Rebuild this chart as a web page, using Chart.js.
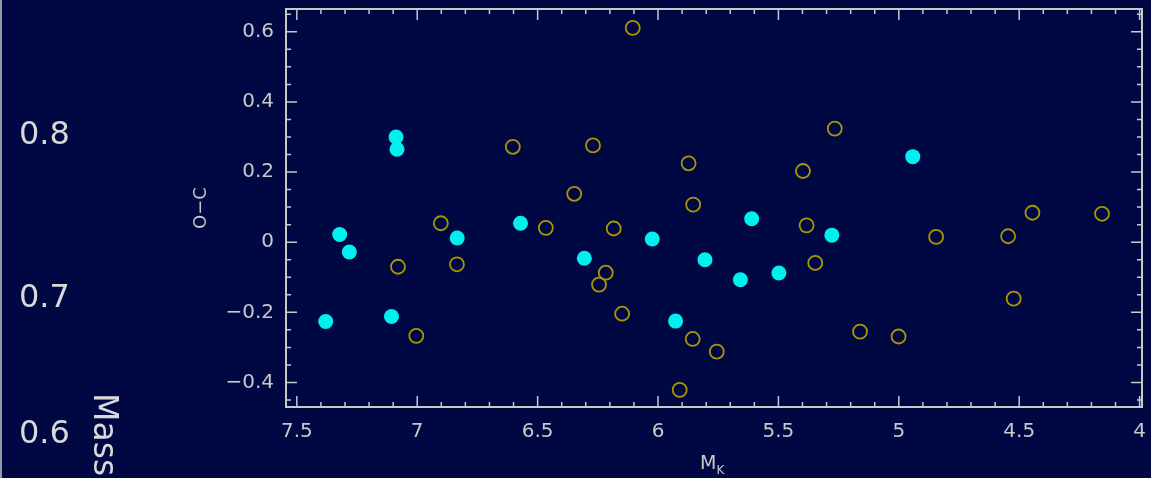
<!DOCTYPE html>
<html>
<head>
<meta charset="utf-8">
<script src="https://cdn.jsdelivr.net/npm/chart.js@4.4.1/dist/chart.umd.min.js"></script>
<style>
  body { margin: 0; background: #000843; }
  canvas { display: block; }
</style>
</head>
<body>
<canvas id="mychart" width="1151" height="478"></canvas>
<script>
// filled (cyan) stars: absolute K magnitude and O-C residual
const filledMk = [7.38, 7.322, 7.282, 7.088, 7.084, 7.107, 6.834, 6.571, 6.306, 6.024, 5.927, 5.805, 5.611, 5.658, 5.498, 5.278, 4.942];
const filledOC = [-0.226, 0.022, -0.028, 0.300, 0.265, -0.212, 0.012, 0.054, -0.046, 0.009, -0.225, -0.050, 0.067, -0.107, -0.088, 0.020, 0.244];

// open (olive) stars
const openMk = [6.105, 7.080, 7.004, 6.902, 6.835, 6.603, 6.466, 6.348, 6.270, 6.184, 6.217, 6.245, 6.149, 5.873, 5.854, 5.856, 5.910,
  5.756, 5.266, 5.398, 5.383, 5.347, 5.161, 5.001, 4.845, 4.546, 4.445, 4.523, 4.156];
const openOC = [0.611, -0.070, -0.267, 0.054, -0.063, 0.272, 0.041, 0.138, 0.276, 0.039, -0.087, -0.121, -0.204, 0.225, 0.107, -0.276, -0.421,
  -0.312, 0.324, 0.203, 0.048, -0.059, -0.255, -0.269, 0.015, 0.017, 0.084, -0.161, 0.081];

const xTicks = [7.5, 7, 6.5, 6, 5.5, 5, 4.5, 4];
const yTicks = [0.6, 0.4, 0.2, 0, -0.2, -0.4];
const massLabels = ["0.8", "0.7", "0.6"];

const axisColor = "#c8c8c8";
const fontFamily = "'DejaVu Sans', sans-serif";

function toPoints(xs, ys) {
  return xs.map((x, i) => ({ x: x, y: ys[i] }));
}

function fmt(v) {
  let s = String(Math.round(v * 10) / 10);
  return s.replace("-", "\u2212");
}

function noPadding(scale) {
  scale.paddingTop = 0;
  scale.paddingBottom = 0;
  scale.paddingLeft = 0;
  scale.paddingRight = 0;
}

// frame with inward major/minor ticks on all four sides, plus outside texts
const framePlugin = {
  id: "frame",
  afterDraw(chart) {
    const ctx = chart.ctx;
    const area = chart.chartArea;
    const xs = chart.scales.x;
    const ys = chart.scales.y;

    ctx.save();
    ctx.strokeStyle = axisColor;
    ctx.lineWidth = 2;
    ctx.strokeRect(area.left, area.top, area.right - area.left, area.bottom - area.top);

    ctx.lineWidth = 1.5;
    for (let i = 40; i <= 75; i++) {
      let v = i / 10;
      let px = xs.getPixelForValue(v);
      if (px < area.left + 2 || px > area.right - 1) continue;
      let len = (i % 5 === 0) ? 11 : 5;
      ctx.beginPath();
      ctx.moveTo(px, area.bottom);
      ctx.lineTo(px, area.bottom - len);
      ctx.moveTo(px, area.top);
      ctx.lineTo(px, area.top + len);
      ctx.stroke();
    }
    for (let i = -9; i <= 13; i++) {
      let v = i * 0.05;
      let py = ys.getPixelForValue(v);
      if (py < area.top + 2 || py > area.bottom - 2) continue;
      let len = (i % 4 === 0) ? 11 : 5;
      ctx.beginPath();
      ctx.moveTo(area.left, py);
      ctx.lineTo(area.left + len, py);
      ctx.moveTo(area.right, py);
      ctx.lineTo(area.right - len, py);
      ctx.stroke();
    }

    // thin edge line of the neighbouring panel
    ctx.lineWidth = 1.5;
    ctx.beginPath();
    ctx.moveTo(1, 0);
    ctx.lineTo(1, chart.height);
    ctx.stroke();

    ctx.fillStyle = axisColor;

    // y title
    ctx.save();
    ctx.translate(201, (area.top + area.bottom) / 2);
    ctx.rotate(-Math.PI / 2);
    ctx.font = "18px " + fontFamily;
    ctx.textAlign = "center";
    ctx.textBaseline = "middle";
    ctx.fillText("O\u2212C", 0, 0);
    ctx.restore();

    // x title M_K
    ctx.font = "19px " + fontFamily;
    ctx.textAlign = "left";
    ctx.textBaseline = "alphabetic";
    let cx = (area.left + area.right) / 2;
    let mw = ctx.measureText("M").width;
    ctx.fillText("M", cx - 14, 469);
    ctx.font = "12px " + fontFamily;
    ctx.fillText("K", cx - 14 + mw, 474);

    // mass axis of the neighbouring panel
    ctx.font = "32px " + fontFamily;
    ctx.textAlign = "left";
    ctx.textBaseline = "middle";
    ctx.fillStyle = "#d8d8d8";
    const massY = [136, 299, 435];
    massLabels.forEach((t, i) => ctx.fillText(t, 19, massY[i]));

    ctx.save();
    ctx.translate(90, 393);
    ctx.rotate(Math.PI / 2);
    ctx.textAlign = "left";
    ctx.textBaseline = "middle";
    ctx.font = "33px " + fontFamily;
    ctx.fillText("Mass", 0, -13);
    ctx.restore();

    ctx.restore();
  }
};

const ctx = document.getElementById("mychart").getContext("2d");
const myChart = new Chart(ctx, {
  type: "scatter",
  data: {
    datasets: [
      {
        label: "open",
        data: toPoints(openMk, openOC),
        pointStyle: "circle",
        pointRadius: 7,
        pointBorderWidth: 1.8,
        borderColor: "#a89600",
        backgroundColor: "rgba(0,0,0,0)"
      },
      {
        label: "filled",
        data: toPoints(filledMk, filledOC),
        pointStyle: "circle",
        pointRadius: 7.5,
        pointBorderWidth: 0,
        borderColor: "#00f0f0",
        backgroundColor: "#00f0f0"
      }
    ]
  },
  options: {
    responsive: false,
    animation: false,
    layout: { padding: { top: 9, right: 9, left: 0, bottom: 0 } },
    plugins: {
      legend: { display: false },
      tooltip: { enabled: false }
    },
    scales: {
      x: {
        type: "linear",
        reverse: true,
        min: 3.99,
        max: 7.545,
        grid: { display: false, drawTicks: false },
        border: { display: false },
        afterFit: function(scale) { scale.height = 71; noPadding(scale); },
        afterBuildTicks: function(scale) { scale.ticks = xTicks.map(v => ({ value: v })); },
        ticks: {
          color: axisColor,
          padding: 13,
          maxRotation: 0,
          font: { family: fontFamily, size: 20 },
          callback: function(v) { return fmt(v); }
        }
      },
      y: {
        type: "linear",
        min: -0.47,
        max: 0.665,
        grid: { display: false, drawTicks: false },
        border: { display: false },
        afterFit: function(scale) { scale.width = 286; noPadding(scale); },
        afterBuildTicks: function(scale) { scale.ticks = yTicks.map(v => ({ value: v })); },
        ticks: {
          color: axisColor,
          padding: 12,
          font: { family: fontFamily, size: 20 },
          callback: function(v) { return fmt(v); }
        }
      }
    }
  },
  plugins: [framePlugin]
});
</script>
</body>
</html>
